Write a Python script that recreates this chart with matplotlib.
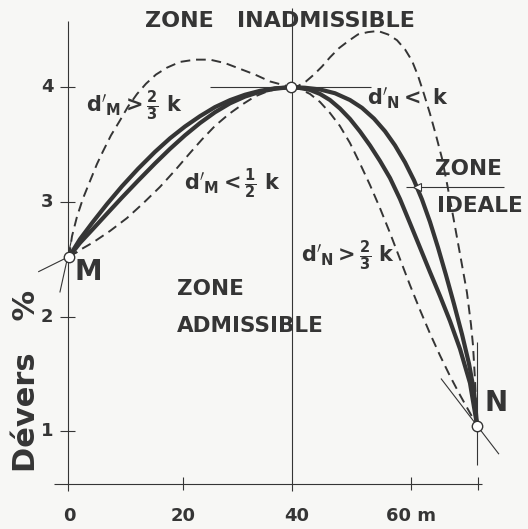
import matplotlib
matplotlib.use("Agg")
import matplotlib.pyplot as plt

plt.rcParams['mathtext.fontset'] = 'dejavusans'
plt.rcParams['font.family'] = ['DejaVu Sans']

INK = '#353535'
BG = '#f7f7f5'

# ---- data (distance in m, dévers in %) ----
M_pt = (0.0, 2.52)
P_pt = (39.0, 4.00)
N_pt = (71.6, 1.05)

# M -> P branch
left_upper_dash_x = [0, 0.53, 1.40, 2.46, 3.68, 4.91, 5.96, 7.37, 8.95, 10.35, 11.93, 13.51,
                     15.26, 17.19, 19.47, 22.11, 24.74, 27.37, 30.0, 32.63, 35.26, 39]
left_upper_dash_y = [2.52, 2.70, 2.87, 3.03, 3.18, 3.33, 3.44, 3.58, 3.71, 3.83, 3.94, 4.03,
                     4.11, 4.17, 4.22, 4.24, 4.24, 4.21, 4.16, 4.11, 4.05, 4.00]

left_thick_a_x = [0, 1.93, 4.21, 6.67, 9.30, 12.11, 15.09, 17.72, 20.35, 22.98, 25.61,
                  28.25, 30.88, 33.51, 36.14, 39]
left_thick_a_y = [2.52, 2.675, 2.826, 2.981, 3.136, 3.288, 3.436, 3.554, 3.657, 3.747, 3.826,
                  3.887, 3.934, 3.968, 3.990, 4.00]

left_thick_b_x = left_thick_a_x
left_thick_b_y = [2.52, 2.642, 2.764, 2.897, 3.038, 3.184, 3.335, 3.462, 3.580, 3.687, 3.781,
                  3.859, 3.918, 3.960, 3.987, 4.00]

left_lower_dash_x = [0, 1.93, 4.21, 7.19, 10.18, 12.98, 15.96, 18.60, 21.23, 23.33, 25.61,
                     28.07, 30.53, 32.63, 34.74, 36.84, 39]
left_lower_dash_y = [2.52, 2.581, 2.646, 2.746, 2.859, 2.986, 3.130, 3.274, 3.426, 3.544, 3.662,
                     3.766, 3.853, 3.919, 3.962, 3.989, 4.00]

# P -> N branch
right_upper_dash_x = [39, 40.18, 41.58, 42.98, 44.39, 45.79, 47.37, 48.95, 50.70, 52.46, 54.21,
                      55.96, 57.54, 58.95, 60.18, 61.23, 62.28, 63.33, 64.39, 65.44, 66.32,
                      67.19, 68.07, 68.95, 69.82, 70.53, 70.88, 71.23, 71.6]
right_upper_dash_y = [4.00, 4.01, 4.05, 4.11, 4.18, 4.26, 4.34, 4.40, 4.46, 4.48, 4.49,
                      4.46, 4.41, 4.33, 4.23, 4.10, 3.94, 3.77, 3.58, 3.38, 3.16,
                      2.93, 2.69, 2.45, 2.21, 1.93, 1.75, 1.45, 1.05]

right_thick_a_x = [39, 40.53, 42.28, 44.04, 45.79, 47.54, 49.30, 51.05, 52.81, 54.56, 56.32,
                   58.07, 59.82, 61.58, 63.33, 65.09, 66.84, 68.60, 70.35, 71.6]
right_thick_a_y = [4.00, 3.993, 3.976, 3.941, 3.888, 3.814, 3.723, 3.614, 3.492, 3.357, 3.208,
                   3.025, 2.815, 2.602, 2.389, 2.180, 1.962, 1.718, 1.421, 1.05]

right_thick_b_x = [39, 41.40, 44.04, 46.67, 49.30, 51.40, 53.51, 55.44, 57.19, 58.95, 60.53,
                   61.93, 63.33, 64.74, 66.14, 67.54, 68.95, 70.18, 71.05, 71.6]
right_thick_b_y = [4.00, 3.995, 3.980, 3.947, 3.888, 3.820, 3.726, 3.616, 3.493, 3.345, 3.188,
                   3.021, 2.826, 2.602, 2.362, 2.111, 1.846, 1.589, 1.350, 1.05]

right_lower_dash_x = [39, 40.53, 42.28, 44.04, 45.79, 47.54, 49.30, 51.05, 52.81, 54.56, 56.32,
                      58.07, 59.82, 61.58, 63.33, 65.09, 66.84, 68.60, 70.35, 71.6]
right_lower_dash_y = [4.00, 3.984, 3.941, 3.871, 3.775, 3.661, 3.513, 3.335, 3.147, 2.946, 2.729,
                      2.502, 2.275, 2.058, 1.853, 1.661, 1.482, 1.316, 1.160, 1.05]

y_ticks = [1, 2, 3, 4]
x_ticks = [0, 20, 40, 60]
x_tick_labels = ['0', '20', '40', '60 m']

# ---- figure ----
fig = plt.figure(figsize=(5.28, 5.29), dpi=100, facecolor=BG)
ax = fig.add_axes([0, 0, 1, 1])
ax.set_facecolor(BG)
ax.set_xlim(-12.1, 80.53)
ax.set_ylim(0.148, 4.76)
ax.axis('off')

thin = dict(color=INK, lw=0.8, solid_capstyle='butt')
# axes
ax.plot([-0.1, -0.1], [0.48, 4.58], **thin)
ax.plot([-2.6, 72.5], [0.54, 0.54], **thin)
ax.plot([39.2, 39.2], [0.48, 4.69], **thin)
for yt in y_ticks:
    ax.plot([-1.6, 1.0], [yt, yt], **thin)
for xt in [20, 60, 71.7]:
    ax.plot([xt, xt], [0.49, 0.60], **thin)

# tangent helper lines
ax.plot([24.7, 53.0], [4.0, 4.0], **thin)
ax.plot([-5.4, 1.5], [2.39, 2.56], **thin)
ax.plot([-1.6, 0.4], [2.21, 2.66], **thin)
ax.plot([71.6, 71.6], [0.71, 1.78], **thin)
ax.plot([65.26, 75.44], [1.46, 0.80], **thin)

dash = dict(color=INK, lw=1.4, linestyle=(0, (5, 3)))
thick = dict(color=INK, lw=3.0, solid_capstyle='round', solid_joinstyle='round')

ax.plot(left_upper_dash_x, left_upper_dash_y, **dash)
ax.plot(left_lower_dash_x, left_lower_dash_y, **dash)
ax.plot(left_thick_a_x, left_thick_a_y, **thick)
ax.plot(left_thick_b_x, left_thick_b_y, **thick)
ax.plot(right_upper_dash_x, right_upper_dash_y, **dash)
ax.plot(right_lower_dash_x, right_lower_dash_y, **dash)
ax.plot(right_thick_a_x, right_thick_a_y, **thick)
ax.plot(right_thick_b_x, right_thick_b_y, **thick)

# points
for (px_, py_) in [M_pt, P_pt, N_pt]:
    ax.plot(px_, py_, marker='o', ms=7.5, mfc='white', mec=INK, mew=1.0, zorder=5)

# arrow to ideal zone
ax.plot([59.1, 76.3], [3.13, 3.13], **thin)
ax.plot(61.0, 3.13, marker='<', ms=6, mfc='white', mec=INK, mew=0.8, zorder=5)

tk = dict(color=INK, fontweight='bold')
# tick labels
for yt in y_ticks:
    ax.text(-3.8, yt, str(yt), ha='center', va='center', fontsize=13, **tk)
for xt, lab in zip(x_ticks, x_tick_labels):
    ax.text(xt, 0.26, lab, ha='center', va='center', fontsize=13, **tk)
ax.text(-7.4, 1.44, 'Dévers   %', rotation=90, ha='center', va='center', fontsize=22, **tk)

# zone labels
ax.text(37.0, 4.575, 'ZONE   INADMISSIBLE', ha='center', va='center', fontsize=16, **tk)
ax.text(64.2, 3.29, 'ZONE', ha='left', va='center', fontsize=15.5, **tk)
ax.text(64.6, 2.96, 'IDEALE', ha='left', va='center', fontsize=15.5, **tk)
ax.text(18.9, 2.24, 'ZONE', ha='left', va='center', fontsize=15.5, **tk)
ax.text(18.9, 1.92, 'ADMISSIBLE', ha='left', va='center', fontsize=15.5, **tk)

# point labels
ax.text(1.0, 2.39, 'M', ha='left', va='center', fontsize=20, **tk)
ax.text(72.9, 1.25, 'N', ha='left', va='center', fontsize=20, **tk)

# condition labels
ax.text(11.4, 3.84, r"$\mathbf{d'_{M}>\frac{2}{3}\ k}$", ha='center', va='center', fontsize=15, color=INK)
ax.text(28.6, 3.16, r"$\mathbf{d'_{M}<\frac{1}{2}\ k}$", ha='center', va='center', fontsize=15, color=INK)
ax.text(59.5, 3.90, r"$\mathbf{d'_{N}<\ k}$", ha='center', va='center', fontsize=15, color=INK)
ax.text(49.0, 2.53, r"$\mathbf{d'_{N}>\frac{2}{3}\ k}$", ha='center', va='center', fontsize=15, color=INK)

fig.savefig('out.png', dpi=100, facecolor=BG)
